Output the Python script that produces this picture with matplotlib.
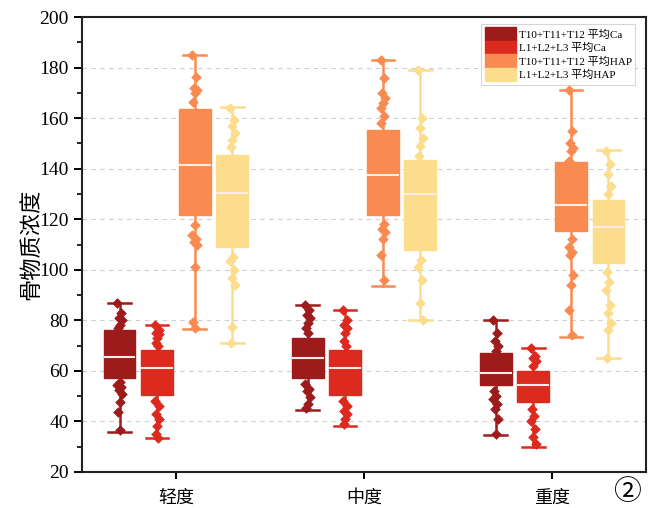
import matplotlib
matplotlib.use("Agg")
import matplotlib.pyplot as plt
from matplotlib.patches import Patch
from matplotlib.ticker import MultipleLocator

plt.rcParams['font.family'] = ['Liberation Serif', 'Noto Sans CJK SC', 'DejaVu Sans']

categories = ["轻度", "中度", "重度"]
series_names = ["T10+T11+T12 平均Ca", "L1+L2+L3 平均Ca",
                "T10+T11+T12 平均HAP", "L1+L2+L3 平均HAP"]
colors = ["#9E1B1B", "#DC2A1F", "#F98B50", "#FCDD8C"]

# box stats per series: [whislo, q1, median, q3, whishi] for each category
ca_t_stats = [[36.0, 57.1, 65.6, 76.2, 87.0],
              [44.5, 57.1, 65.0, 72.9, 86.1],
              [34.6, 54.4, 59.1, 67.0, 80.1]]
ca_l_stats = [[33.3, 50.5, 61.0, 68.3, 78.2],
              [38.2, 50.5, 61.0, 68.3, 84.1],
              [30.0, 47.8, 54.4, 60.1, 69.0]]
hap_t_stats = [[76.5, 121.7, 141.5, 163.6, 185.0],
               [93.6, 121.7, 137.5, 155.3, 183.0],
               [73.5, 115.5, 125.6, 142.8, 171.1]]
hap_l_stats = [[70.9, 109.1, 130.3, 145.4, 164.5],
               [80.0, 107.8, 130.0, 143.4, 179.0],
               [65.0, 102.6, 117.0, 127.6, 147.4]]

# visible individual points (outside the boxes)
ca_t_points = [[87, 83, 81, 80, 78, 77, 55.7, 54.5, 53.7, 52.4, 51, 47.8, 43.9, 36.8],
               [86, 84, 82, 81, 79, 77, 75, 55, 53, 52, 49.5, 47, 45.5],
               [80, 75, 72, 70, 68, 52, 50, 49, 47, 45, 41, 35]]
ca_l_points = [[78, 76, 75, 74.5, 73, 71, 70, 48, 46, 43, 41, 38, 35, 33.5],
               [84, 80, 78, 77, 75, 72, 70, 48, 46, 44, 43, 41, 39],
               [69, 66, 65, 64, 62, 45, 42, 40, 37, 34, 31]]
hap_t_points = [[185, 176.4, 172, 171, 170, 166.5, 117.7, 113.8, 112, 111, 109.7, 101.2, 79.5, 77],
                [183, 176, 170, 168, 166, 164, 161, 158, 118, 116, 115, 112, 106, 96],
                [171, 155, 150, 148, 147, 143, 112, 109, 107, 106, 98, 94, 84, 74]]
hap_l_points = [[164, 159.3, 156.7, 154, 151.4, 148.7, 105.2, 103.4, 100, 96.9, 94, 77.5, 71],
                [179, 160, 156, 152, 149, 145, 104, 101, 96, 87, 80],
                [147, 142, 138, 133, 130, 99, 95, 92, 86, 83, 79, 76, 65]]

all_stats = [ca_t_stats, ca_l_stats, hap_t_stats, hap_l_stats]
all_points = [ca_t_points, ca_l_points, hap_t_points, hap_l_points]
offsets = [-0.3, -0.1, 0.1, 0.3]
width = 0.17
jit = [-0.012, 0.008, -0.004, 0.012, 0.0, -0.008, 0.004]

fig = plt.figure(figsize=(6.5, 5.08), dpi=100)
ax = fig.add_axes([0.126, 0.0709, 0.868, 0.8956])

for s, (stats, pts, off, col) in enumerate(zip(all_stats, all_points, offsets, colors)):
    bstats = []
    pos = []
    for i, st in enumerate(stats):
        bstats.append(dict(whislo=st[0], q1=st[1], med=st[2], q3=st[3], whishi=st[4], fliers=[]))
        pos.append(i + off)
    ax.bxp(bstats, positions=pos, widths=width, patch_artist=True, showfliers=False,
           capwidths=0.12,
           boxprops=dict(facecolor=col, edgecolor=col, linewidth=1.0, zorder=4),
           medianprops=dict(color="#FDEDE6", linewidth=1.5, zorder=5),
           whiskerprops=dict(color=col, linewidth=1.8, zorder=2),
           capprops=dict(color=col, linewidth=1.8, zorder=2))
    for i, vals in enumerate(pts):
        xs = [i + off + jit[k % len(jit)] for k in range(len(vals))]
        ax.scatter(xs, vals, marker="D", s=24, color=col, edgecolors=col, linewidths=0.5, zorder=3)

ax.set_xlim(-0.5, 2.5)
ax.set_ylim(20, 200)
ax.set_xticks(range(len(categories)))
ax.set_xticklabels(categories, fontsize=13)
ax.yaxis.set_major_locator(MultipleLocator(20))
ax.yaxis.set_minor_locator(MultipleLocator(10))
ax.tick_params(axis='y', which='major', direction='out', length=6, width=1.4, labelsize=14)
ax.tick_params(axis='y', which='minor', direction='out', length=3.5, width=1.2)
ax.tick_params(axis='x', which='major', direction='out', length=5, width=1.4, labelsize=13, pad=7)
ax.set_ylabel("骨物质浓度", fontsize=16, family=['Noto Sans CJK SC', 'DejaVu Sans'], labelpad=-2)
for lab in ax.get_xticklabels():
    lab.set_family(['Noto Sans CJK SC', 'DejaVu Sans'])
for sp in ax.spines.values():
    sp.set_linewidth(1.5)
    sp.set_color("#222222")
ax.yaxis.grid(True, linestyle=(0, (4, 4)), color="#CFCFCF", linewidth=0.8)
ax.set_axisbelow(True)

handles = [Patch(facecolor=c, edgecolor=c) for c in colors]
leg = ax.legend(handles, series_names, loc="upper right",
                bbox_to_anchor=(0.985, 0.99), frameon=True, fancybox=False,
                handlelength=2.8, handleheight=1.5, handletextpad=0.3,
                labelspacing=0.0, borderpad=0.3, borderaxespad=0.2,
                prop={'family': ['Liberation Serif', 'Noto Sans CJK SC'], 'size': 8})
leg.get_frame().set_edgecolor("#CCCCCC")
leg.get_frame().set_linewidth(0.8)

fig.text(0.965, 0.032, "②", fontsize=20, ha="center", va="center",
         family=['Noto Sans CJK SC', 'DejaVu Sans'])

fig.savefig("out.png", dpi=100)
